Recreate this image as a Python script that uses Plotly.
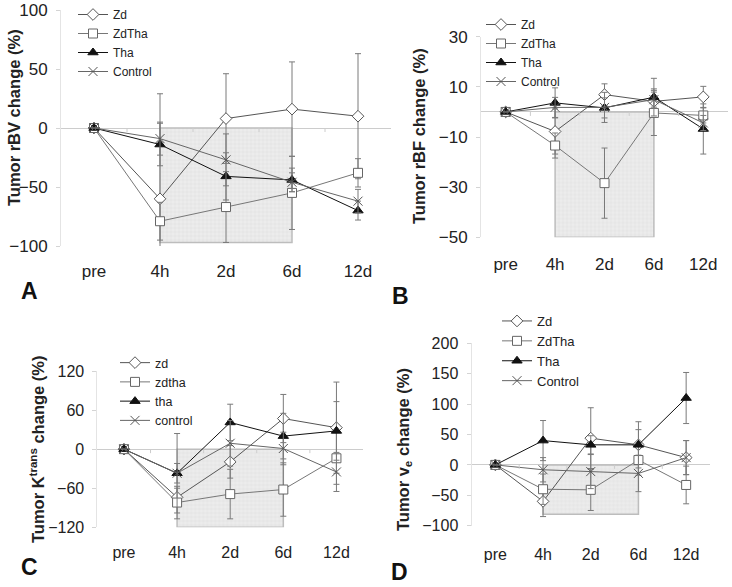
import plotly.graph_objects as go

W, H = 732, 587

categories = ["pre", "4h", "2d", "6d", "12d"]
shade_from, shade_to = "4h", "6d"

# ---------------- Panel A : rBV ----------------
a_names = ["Zd", "ZdTha", "Tha", "Control"]
a_zd = [0, -60, 8, 16, 10]
a_zdtha = [0, -79, -67, -55, -38]
a_tha = [0, -14, -41, -44, -70]
a_control = [0, -9, -27, -46, -62]
a_zd_err = [0, 89, 38, 40, 53]
a_zdtha_err = [0, 16, 30, 31, 12]
a_tha_err = [0, 18, 20, 10, 8]
a_control_err = [0, 14, 22, 8, 10]
a_shade_bottom = -97
a_yticks = [-100, -50, 0, 50, 100]

# ---------------- Panel B : rBF ----------------
b_names = ["Zd", "ZdTha", "Tha", "Control"]
b_zd = [0, -7.8, 6.9, 4.2, 6]
b_zdtha = [0, -13.4, -28.4, -0.4, -1.4]
b_tha = [0, 3.6, 1.6, 5.9, -6.8]
b_control = [0, 1.8, 1.8, 4.9, -4.4]
b_zd_err = [0, 9, 4.3, 5, 4.2]
b_zdtha_err = [0, 5, 14, 9, 3]
b_tha_err = [0, 6, 4, 7.5, 10]
b_control_err = [0, 4, 6, 3, 3]
b_shade_bottom = -50
b_yticks = [-50, -30, -10, 10, 30]

# ---------------- Panel C : Ktrans ----------------
c_names = ["zd", "zdtha", "tha", "control"]
c_zd = [0, -74, -19.5, 47, 33]
c_zdtha = [0, -82, -69, -62, -14]
c_tha = [0, -37, 41, 20, 28]
c_control = [0, -37, 9, 1, -35]
c_zd_err = [0, 14, 25, 37, 70]
c_zdtha_err = [0, 25, 38, 41, 40]
c_tha_err = [0, 61, 28, 35, 45]
c_control_err = [0, 15, 35, 25, 30]
c_shade_bottom = -120
c_yticks = [-120, -60, 0, 60, 120]

# ---------------- Panel D : ve ----------------
d_names = ["Zd", "ZdTha", "Tha", "Control"]
d_zd = [0, -60, 44, 33, 12]
d_zdtha = [0, -40, -41, 8, -33]
d_tha = [0, 40, 33, 33, 110]
d_control = [0, -8, -11, -14, 12]
d_zd_err = [0, 25, 50, 25, 28]
d_zdtha_err = [0, 25, 34, 25, 31]
d_tha_err = [0, 33, 15, 38, 42]
d_control_err = [0, 20, 28, 30, 28]
d_shade_bottom = -81
d_yticks = [-100, -50, 0, 50, 100, 150, 200]

# ---------------- styles ----------------
styles = [
    dict(symbol="diamond", color="white", line="#555555", mline="#555555", size=9),
    dict(symbol="square", color="white", line="#777777", mline="#666666", size=9),
    dict(symbol="triangle-up", color="#111111", line="#111111", mline="#111111", size=9),
    dict(symbol="x-thin", color="#666666", line="#666666", mline="#555555", size=9),
]

def fx(p):
    return p / W

def fy(p):
    return 1 - p / H

panels = [
    dict(key="", names=a_names,
         series=[a_zd, a_zdtha, a_tha, a_control],
         errs=[a_zd_err, a_zdtha_err, a_tha_err, a_control_err],
         shade=a_shade_bottom, yticks=a_yticks, yrange=[-100, 100],
         xpx=(61, 391), ypx=(10, 246), tickfont=17,
         title="Tumor rBV change (%)", tpos=(14, 118),
         letter="A", lpos=(29, 291), legpos=(73, -2), legfont=12, standoff=13),
    dict(key="2", names=b_names,
         series=[b_zd, b_zdtha, b_tha, b_control],
         errs=[b_zd_err, b_zdtha_err, b_tha_err, b_control_err],
         shade=b_shade_bottom, yticks=b_yticks, yrange=[-50, 30],
         xpx=(481, 728), ypx=(36.7, 237.3), tickfont=17,
         title="Tumor rBF change (%)", tpos=(419, 136),
         letter="B", lpos=(400, 296), legpos=(481, 10), legfont=12, standoff=15),
    dict(key="3", names=c_names,
         series=[c_zd, c_zdtha, c_tha, c_control],
         errs=[c_zd_err, c_zdtha_err, c_tha_err, c_control_err],
         shade=c_shade_bottom, yticks=c_yticks, yrange=[-120, 120],
         xpx=(97.4, 363), ypx=(371, 527.3), tickfont=16,
         title="Tumor K<sup>trans</sup> change (%)", tpos=(37, 450),
         letter="C", lpos=(30, 567), legpos=(115, 348), legfont=12.5, standoff=14),
    dict(key="4", names=d_names,
         series=[d_zd, d_zdtha, d_tha, d_control],
         errs=[d_zd_err, d_zdtha_err, d_tha_err, d_control_err],
         shade=d_shade_bottom, yticks=d_yticks, yrange=[-100, 200],
         xpx=(471.5, 710), ypx=(343.3, 525.7), tickfont=16,
         title="Tumor v<sub>e</sub> change (%)", tpos=(404, 449),
         letter="D", lpos=(399, 572), legpos=(497, 306), legfont=13, standoff=17),
]

fig = go.Figure()
xpos = list(range(len(categories)))
i0, i1 = categories.index(shade_from), categories.index(shade_to)

layout = dict(template="none", width=W, height=H,
              margin=dict(l=0, r=0, t=0, b=0, pad=0, autoexpand=False),
              paper_bgcolor="white", plot_bgcolor="rgba(0,0,0,0)",
              font=dict(family="Liberation Sans, Arial, sans-serif", color="#222222"),
              showlegend=True)
annotations = []
shapes = []

for p in panels:
    k = p["key"]
    xa, ya = "x" + k, "y" + k
    legname = "legend" + k
    # shaded treatment window
    fig.add_trace(go.Bar(
        x=[(i0 + i1) / 2], y=[p["shade"]], base=[0], width=[i1 - i0],
        xaxis=xa, yaxis=ya, showlegend=False, hoverinfo="skip",
        marker=dict(color="#e8e8e8",
                    line=dict(color="#bdbdbd", width=1.5),
                    pattern=dict(shape="+", size=4, fgcolor="#d6d6d6",
                                 bgcolor="#ececec", solidity=0.15))))
    for name, vals, err, st in zip(p["names"], p["series"], p["errs"], styles):
        fig.add_trace(go.Scatter(
            x=xpos, y=vals, name=name, mode="lines+markers",
            xaxis=xa, yaxis=ya, legend=legname,
            line=dict(color=st["line"], width=1),
            marker=dict(symbol=st["symbol"], size=st["size"], color=st["color"],
                        line=dict(color=st["mline"], width=1)),
            error_y=dict(type="data", array=err, visible=True,
                         color="#7a7a7a", thickness=1, width=3)))
    ymin, ymax = p["yrange"]
    layout["xaxis" + k] = dict(
        domain=[fx(p["xpx"][0]), fx(p["xpx"][1])], anchor=ya,
        range=[-0.5, len(categories) - 0.5], tickvals=xpos, ticktext=categories,
        showgrid=False, zeroline=False, showline=False, ticks="",
        automargin=False,
        tickfont=dict(size=p["tickfont"], color="#222222"),
        ticklabelstandoff=p["standoff"], fixedrange=True)
    layout["yaxis" + k] = dict(
        domain=[fy(p["ypx"][1]), fy(p["ypx"][0])], anchor=xa,
        range=[ymin, ymax], tickvals=p["yticks"],
        showgrid=False, zeroline=True, zerolinecolor="#cccccc", zerolinewidth=1,
        showline=True, linecolor="#e4e4e4", linewidth=1,
        ticks="outside", ticklen=4, tickcolor="#d4d4d4",
        automargin=False,
        tickfont=dict(size=p["tickfont"], color="#222222"),
        ticklabelstandoff=5, fixedrange=True)
    # small boundary ticks on the zero (category) line
    pxh = (p["ypx"][1] - p["ypx"][0]) / (ymax - ymin)
    for b in [i + 0.5 for i in range(len(categories) - 1)]:
        shapes.append(dict(type="line", xref=xa, yref=ya, x0=b, x1=b,
                           y0=0, y1=-4 / pxh, line=dict(color="#cccccc", width=1)))
    layout[legname] = dict(x=fx(p["legpos"][0]), y=min(1, fy(p["legpos"][1])),
                           xanchor="left", yanchor="top",
                           bgcolor="rgba(0,0,0,0)", borderwidth=0,
                           font=dict(size=p["legfont"], color="#222222"),
                           itemwidth=30, tracegroupgap=0)
    annotations.append(dict(text="<b>" + p["title"] + "</b>", textangle=-90,
                            x=fx(p["tpos"][0]), y=fy(p["tpos"][1]),
                            xref="paper", yref="paper", showarrow=False,
                            xanchor="center", yanchor="middle",
                            font=dict(size=16.5, color="#222222")))
    annotations.append(dict(text="<b>" + p["letter"] + "</b>",
                            x=fx(p["lpos"][0]), y=fy(p["lpos"][1]),
                            xref="paper", yref="paper", showarrow=False,
                            xanchor="center", yanchor="middle",
                            font=dict(size=23, color="#111111")))

layout["annotations"] = annotations
layout["shapes"] = shapes
fig.update_layout(**layout)
fig.write_html("out.html",
               config={"displayModeBar": False, "staticPlot": True},
               post_script="document.body.style.margin='0';document.body.style.overflow='hidden';")
